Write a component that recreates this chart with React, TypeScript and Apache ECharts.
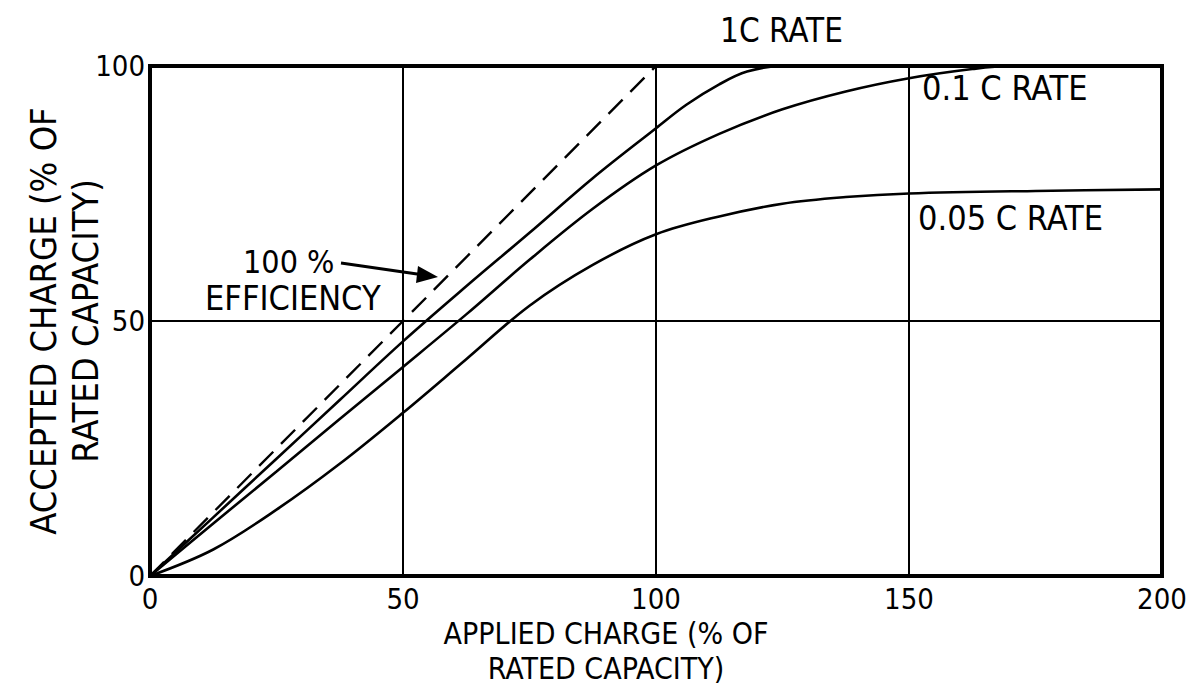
import React, { useEffect, useRef } from "react";
import * as echarts from "echarts";

const xTickValues = [0, 50, 100, 150, 200];
const yTickValues = [0, 50, 100];

const efficiencyX = [0, 100];
const efficiencyY = [0, 100];

const rate1CX = [0, 12.5, 25, 37.5, 50, 62.5, 75, 87.5, 100, 106, 112.5, 118, 125, 150, 200];
const rate1CY = [0, 11.5, 23, 34.5, 46, 56.8, 67.3, 78, 87.8, 92.4, 96.4, 98.9, 100, 100, 100];

const rate01CX = [0, 12.5, 25, 37.5, 50, 62.5, 75, 87.5, 100, 112.5, 125, 137.5, 150, 162.5, 170, 200];
const rate01CY = [0, 10.3, 20.5, 30.8, 41, 51.3, 62, 72, 80.5, 86.7, 91.5, 95, 97.6, 99.4, 100, 100];

const rate005CX = [0, 12.5, 25, 37.5, 50, 62.5, 75, 87.5, 100, 112.5, 125, 137.5, 150, 175, 200];
const rate005CY = [0, 5.2, 13, 22, 32, 42.5, 53, 61, 67, 70.5, 73, 74.3, 75, 75.5, 75.8];

const FONT = "'DejaVu Sans Condensed', 'Liberation Sans Narrow', 'DejaVu Sans', sans-serif";

const zip = (xs: number[], ys: number[]) => xs.map((x, i) => [x, ys[i]]);

export default function App() {
  const ref = useRef<HTMLDivElement>(null);
  useEffect(() => {
    if (!ref.current) return;
    const chart = echarts.init(ref.current, undefined, { renderer: "svg" });
    const curveStyle = { color: "#000", width: 2.6 };
    chart.setOption({
      animation: false,
      backgroundColor: "#fff",
      grid: {
        left: 150,
        right: 29,
        top: 66,
        bottom: 112,
        show: true,
        borderColor: "#000",
        borderWidth: 4,
      },
      xAxis: {
        type: "value",
        min: 0,
        max: 200,
        interval: 50,
        axisLine: { show: true, lineStyle: { color: "#000", width: 4 } },
        axisTick: { show: false },
        splitLine: { show: true, lineStyle: { color: "#000", width: 2 } },
        axisLabel: {
          color: "#000",
          fontSize: 29,
          fontFamily: FONT,
          margin: 8,
          formatter: (v: number) => (xTickValues.includes(v) ? String(v) : ""),
        },
      },
      yAxis: {
        type: "value",
        min: 0,
        max: 100,
        interval: 50,
        axisLine: { show: true, lineStyle: { color: "#000", width: 4 } },
        axisTick: { show: false },
        splitLine: { show: true, lineStyle: { color: "#000", width: 2 } },
        axisLabel: {
          color: "#000",
          fontSize: 29,
          fontFamily: FONT,
          margin: 5,
          formatter: (v: number) => (yTickValues.includes(v) ? String(v) : ""),
        },
      },
      series: [
        {
          type: "line",
          name: "100 % efficiency",
          data: zip(efficiencyX, efficiencyY),
          showSymbol: false,
          lineStyle: { color: "#000", width: 2.4, type: [20, 11] },
        },
        {
          type: "line",
          name: "1C rate",
          data: zip(rate1CX, rate1CY),
          showSymbol: false,
          smooth: 0.35,
          lineStyle: curveStyle,
        },
        {
          type: "line",
          name: "0.1 C rate",
          data: zip(rate01CX, rate01CY),
          showSymbol: false,
          smooth: 0.35,
          lineStyle: curveStyle,
        },
        {
          type: "line",
          name: "0.05 C rate",
          data: zip(rate005CX, rate005CY),
          showSymbol: false,
          smooth: 0.35,
          lineStyle: curveStyle,
        },
      ],
      graphic: [
        {
          type: "text",
          x: 22,
          y: 321,
          rotation: Math.PI / 2,
          style: {
            text: "ACCEPTED CHARGE (% OF\nRATED CAPACITY)",
            fill: "#000",
            font: `36px ${FONT}`,
            align: "center",
            verticalAlign: "top",
            lineHeight: 42,
          },
        },
        {
          type: "text",
          x: 606,
          y: 616,
          style: {
            text: "APPLIED CHARGE (% OF\nRATED CAPACITY)",
            fill: "#000",
            font: `30px ${FONT}`,
            align: "center",
            verticalAlign: "top",
            lineHeight: 35,
          },
        },
        {
          type: "text",
          left: 720,
          top: 14,
          style: { text: "1C RATE", fill: "#000", font: `33px ${FONT}` },
        },
        {
          type: "text",
          left: 922,
          top: 71,
          style: { text: "0.1 C RATE", fill: "#000", font: `34px ${FONT}` },
        },
        {
          type: "text",
          left: 918,
          top: 201,
          style: { text: "0.05 C RATE", fill: "#000", font: `34px ${FONT}` },
        },
        {
          type: "text",
          left: 243,
          top: 246,
          style: { text: "100 %", fill: "#000", font: `32px ${FONT}` },
        },
        {
          type: "text",
          left: 205,
          top: 281,
          style: { text: "EFFICIENCY", fill: "#000", font: `34px ${FONT}` },
        },
        {
          type: "line",
          shape: { x1: 341, y1: 263, x2: 424, y2: 275 },
          style: { stroke: "#000", lineWidth: 3 },
        },
        {
          type: "polygon",
          shape: { points: [[438, 277], [418, 266], [416, 283]] },
          style: { fill: "#000" },
        },
      ],
    });
    return () => chart.dispose();
  }, []);
  return (
    <div
      ref={ref}
      style={{ position: "absolute", left: 0, top: 0, width: 1191, height: 688, background: "#fff" }}
    />
  );
}
